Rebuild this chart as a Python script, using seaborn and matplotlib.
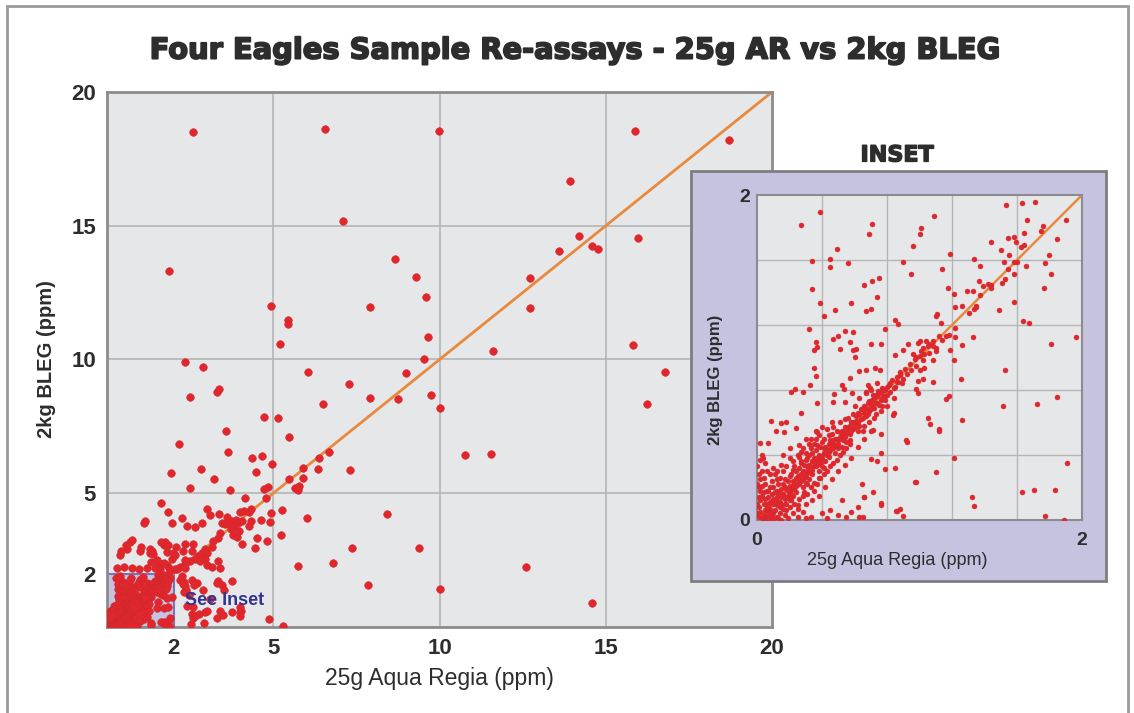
import numpy as np
import seaborn as sns
import matplotlib.pyplot as plt
import matplotlib.patheffects as pe
from matplotlib.patches import Rectangle

# --- data (ppm) ---

# sparse points, mostly above 2 ppm
hi_x = [2.59, 6.57, 9.97, 15.89, 18.72, 13.93, 7.1, 14.2, 14.6, 14.76, 13.6, 15.98, 1.87, 8.65,
        9.28, 12.72, 9.6, 4.92, 7.92, 12.72, 5.45, 5.43, 5.2, 9.64, 9.53, 11.62, 15.82, 2.35,
        2.89, 6.03, 9.0, 16.79, 7.27, 3.3, 3.36, 2.48, 7.9, 8.76, 9.74, 10.0, 6.51, 16.25, 4.73,
        5.13, 3.57, 5.46, 2.16, 3.63, 10.77, 11.55, 4.37, 4.67, 6.37, 6.67, 4.97, 2.83, 5.89,
        6.33, 7.3, 1.93, 4.49, 3.23, 5.48, 5.9, 2.49, 3.69, 4.73, 4.85, 5.65, 5.78, 5.73, 4.79,
        4.14, 1.61, 1.82, 6.0, 8.41, 5.22, 7.38, 9.39, 6.79, 5.73, 12.59, 7.85, 10.02, 14.6,
        4.86, 5.3]
hi_y = [18.5, 18.6, 18.53, 18.54, 18.19, 16.67, 15.19, 14.6, 14.25, 14.12, 14.07, 14.54, 13.3,
        13.76, 13.07, 13.05, 12.34, 11.99, 11.95, 11.94, 11.48, 11.33, 10.58, 10.84, 10.03,
        10.32, 10.53, 9.91, 9.72, 9.55, 9.51, 9.55, 9.08, 8.8, 8.88, 8.58, 8.56, 8.51, 8.67,
        8.2, 8.35, 8.34, 7.86, 7.8, 7.34, 7.1, 6.85, 6.54, 6.44, 6.45, 6.32, 6.38, 6.33, 6.53,
        6.08, 5.9, 5.96, 5.91, 5.87, 5.74, 5.81, 5.53, 5.53, 5.56, 5.21, 5.11, 5.15, 5.22,
        5.18, 5.27, 5.12, 4.81, 4.83, 4.65, 4.31, 4.09, 4.24, 3.44, 2.96, 2.96, 2.4, 2.28,
        2.23, 1.56, 1.43, 0.88, 0.31, 0.05]

# the crowded 1-5 ppm zone of the main chart
mid_x = [3.01, 3.1, 3.37, 3.6, 2.25, 1.11, 1.15, 1.94, 2.4, 2.65, 2.87, 3.45, 3.55, 3.65, 3.77,
         3.87, 3.95, 3.83, 3.72, 3.98, 3.78, 3.9, 4.0, 4.12, 4.27, 4.32, 4.07, 4.33, 4.27, 4.63,
         4.9, 4.92, 5.25, 4.5, 4.8, 4.05, 4.45, 3.4, 3.35, 3.2, 3.15, 2.95, 2.85, 2.75, 2.65,
         2.5, 2.35, 2.2, 2.1, 3.0, 2.95, 2.8, 3.35, 3.4, 3.15, 3.0, 2.6, 2.35, 2.08, 1.75, 1.7,
         1.8, 2.03, 2.27, 2.57, 0.7, 0.6, 0.4, 1.0, 1.35, 1.3, 1.55, 1.45, 1.7, 1.95, 2.35, 2.05,
         1.9, 1.8, 2.35, 0.41, 0.58, 0.74, 1.03, 1.29, 1.38, 1.62, 1.82, 1.98, 1.51, 1.31, 0.3,
         0.5, 0.75, 0.95, 1.2, 1.6, 1.85, 2.25, 2.3, 2.35, 2.55, 2.7, 2.88, 2.3, 2.4, 2.55, 2.6,
         2.78, 2.95, 3.35, 3.47, 3.75, 3.4, 3.5, 3.75, 4.0, 4.0, 2.6, 2.65, 2.52, 2.63, 2.38, 2.2,
         2.27, 3.02, 2.92, 3.3, 3.53, 3.3, 4.03, 4.01, 3.1, 2.45]
mid_y = [4.41, 4.19, 4.21, 4.12, 4.06, 3.88, 3.95, 3.88, 3.78, 3.73, 3.9, 3.9, 3.85, 3.87, 3.95,
         4.0, 3.88, 3.72, 3.65, 3.6, 3.43, 3.35, 4.3, 4.33, 4.3, 4.43, 3.98, 3.96, 3.79, 4.0,
         3.94, 4.27, 4.37, 3.33, 3.2, 3.12, 2.96, 3.5, 3.33, 3.2, 3.0, 2.9, 2.75, 2.65, 2.55,
         2.45, 2.35, 2.25, 2.15, 2.75, 2.55, 2.45, 2.45, 2.2, 2.25, 2.3, 3.12, 3.12, 3.0, 3.18,
         3.05, 2.8, 2.7, 2.85, 2.85, 3.18, 2.93, 2.7, 2.85, 2.85, 2.75, 2.4, 2.2, 2.4, 2.55, 2.5,
         2.15, 2.1, 2.3, 2.22, 2.84, 3.05, 3.25, 2.98, 2.9, 2.72, 3.19, 3.07, 2.78, 2.5, 2.43, 2.2,
         2.25, 2.2, 2.15, 2.2, 2.18, 2.22, 1.9, 1.7, 1.55, 1.75, 1.65, 1.4, 1.3, 0.8, 0.5, 0.35,
         0.5, 0.55, 1.72, 1.58, 1.72, 0.6, 0.45, 0.55, 0.75, 0.55, 0.76, 0.41, 0.1, 1.56, 1.38,
         1.76, 1.6, 0.61, 0.15, 1.63, 1.38, 0.35, 0.6, 0.41, 1.05, 1.2]

# sparse points inside the 0-2 ppm window (inset)
lo_x = [0.27, 0.39, 0.71, 0.69, 1.01, 1.0, 0.96, 0.49, 0.34, 0.45, 0.45, 0.56, 0.9, 0.95, 0.75,
        0.71, 0.66, 0.34, 0.74, 0.58, 0.39, 0.48, 0.7, 0.67, 0.41, 0.85, 0.87, 0.79, 0.32, 0.54,
        0.59, 0.5, 0.47, 0.36, 0.37, 0.35, 0.57, 0.61, 0.59, 0.51, 0.7, 0.76, 0.93, 0.99, 1.0,
        0.9, 0.85, 0.6, 0.96, 0.98,
        1.09, 1.535, 1.63, 1.712, 1.663, 1.903, 1.76, 1.75, 1.64, 1.846, 1.544, 1.583, 1.595,
        1.44, 1.5, 1.624, 1.64, 1.19, 1.552, 1.798, 1.334, 1.519, 1.583, 1.6, 1.77, 1.652,
        1.375, 1.139, 1.544, 1.583, 1.81, 1.523, 1.363, 1.42, 1.442, 1.51, 1.39, 1.44, 1.763,
        1.178, 1.29, 1.33, 1.213, 1.37, 1.58, 1.26, 1.219, 1.346, 1.335, 1.35, 1.49, 1.307,
        1.11, 1.1, 1.132, 1.636, 1.671, 1.219, 1.33, 1.219, 1.16, 1.18, 1.96, 1.81, 1.264,
        1.19, 1.06, 1.04, 1.02, 1.08, 1.1,
        1.213, 1.523, 1.254, 1.083, 1.08, 1.02, 1.03, 1.0, 1.02, 0.99, 0.98, 0.99, 1.18, 1.16,
        1.513, 1.724, 1.846, 1.054, 1.063, 1.12, 1.12, 1.264, 1.213, 1.1, 0.978, 1.907, 1.32,
        1.332, 1.63, 1.704, 1.833, 1.774, 1.89, 0.86, 0.9, 0.76, 0.66, 0.63, 0.65,
        0.351, 0.36, 0.208, 0.232, 0.28, 0.327, 0.524, 0.533, 0.473, 0.582, 0.572, 0.629, 0.67,
        0.724, 0.757, 0.68, 0.697, 0.668, 0.713, 0.746, 0.469, 0.541, 0.366, 0.273, 0.085,
        0.146, 0.117, 0.237, 0.165, 0.181, 0.019, 0.068, 0.037, 0.837, 0.843, 0.715, 0.763,
        0.915, 0.923, 0.761, 0.699, 0.738, 0.787, 0.849, 0.975, 0.648, 0.711, 0.66, 0.763,
        0.88, 0.853, 0.55, 0.5, 0.43, 0.58, 0.62, 0.33, 0.4, 0.45, 0.3, 0.52]
lo_y = [1.815, 1.897, 1.82, 1.76, 1.8, 1.76, 1.686, 1.666, 1.596, 1.606, 1.555, 1.584, 1.588,
        1.514, 1.487, 1.473, 1.444, 1.42, 1.372, 1.335, 1.337, 1.292, 1.296, 1.286, 1.255,
        1.231, 1.204, 1.177, 1.177, 1.165, 1.155, 1.134, 1.116, 1.097, 1.067, 1.046, 1.095,
        1.054, 1.044, 1.054, 1.083, 1.083, 1.085, 1.087, 1.1, 1.046, 1.015, 1.0, 1.02, 1.0,
        1.873, 1.937, 1.949, 1.957, 1.846, 1.844, 1.81, 1.777, 1.764, 1.731, 1.733, 1.74, 1.713,
        1.709, 1.664, 1.678, 1.69, 1.635, 1.633, 1.629, 1.606, 1.586, 1.588, 1.588, 1.584,
        1.563, 1.565, 1.545, 1.543, 1.512, 1.516, 1.481, 1.473, 1.452, 1.448, 1.46, 1.438,
        1.428, 1.426, 1.426, 1.409, 1.409, 1.393, 1.383, 1.343, 1.319, 1.309, 1.32, 1.3, 1.31,
        1.292, 1.272, 1.266, 1.256, 1.212, 1.223, 1.212, 1.184, 1.126, 1.125, 1.13, 1.14,
        1.126, 1.085, 1.075, 1.044, 1.08, 1.1, 1.06, 1.07, 1.04,
        0.985, 0.921, 0.87, 0.851, 0.985, 0.985, 0.936, 0.92, 0.865, 0.853, 0.804, 0.782,
        0.765, 0.743, 0.7, 0.712, 0.755, 0.626, 0.593, 0.558, 0.55, 0.613, 0.381, 0.293,
        0.234, 0.351, 0.143, 0.084, 0.17, 0.185, 0.185, 0.023, 0.002, 0.055, 0.025, 0.107,
        0.14, 0.016, 0.02,
        0.935, 0.884, 0.786, 0.804, 0.788, 0.833, 0.833, 0.808, 0.773, 0.782, 0.876, 0.917,
        0.921, 0.935, 0.921, 0.833, 0.812, 0.786, 0.771, 0.792, 0.726, 0.726, 0.722, 0.657,
        0.608, 0.594, 0.549, 0.564, 0.541, 0.602, 0.476, 0.476, 0.38, 0.644, 0.659, 0.556,
        0.527, 0.494, 0.48, 0.414, 0.377, 0.366, 0.312, 0.322, 0.236, 0.224, 0.17, 0.144, 0.09,
        0.069, 0.053, 0.02, 0.03, 0.01, 0.05, 0.08, 0.02, 0.04, 0.06, 0.01, 0.12]

# dense band along the 1:1 line
band_x = [0.01, 0.02, 0.03, 0.01, 0.04, 0.02, 0.05, 0.0, 0.03, 0.05, 0.01, 0.04, 0.06, 0.02, 0.03,
          0.06, 0.07, 0.08, 0.09, 0.07, 0.08, 0.1, 0.06, 0.09, 0.1, 0.08, 0.07, 0.1, 0.05,
          0.11, 0.12, 0.13, 0.14, 0.12, 0.15, 0.11, 0.13, 0.14, 0.15, 0.12, 0.14, 0.11, 0.13,
          0.16, 0.17, 0.18, 0.19, 0.16, 0.2, 0.17, 0.18, 0.19, 0.2, 0.16, 0.18, 0.2, 0.17,
          0.21, 0.22, 0.23, 0.24, 0.21, 0.25, 0.22, 0.24, 0.23, 0.25, 0.21, 0.24, 0.22, 0.25,
          0.26, 0.27, 0.28, 0.29, 0.26, 0.3, 0.27, 0.28, 0.29, 0.3, 0.26, 0.28, 0.3, 0.27,
          0.31, 0.32, 0.33, 0.34, 0.31, 0.35, 0.32, 0.34, 0.33, 0.35, 0.31, 0.34, 0.32, 0.35,
          0.36, 0.37, 0.38, 0.39, 0.36, 0.4, 0.37, 0.38, 0.39, 0.4, 0.36, 0.38, 0.4, 0.37,
          0.41, 0.42, 0.43, 0.44, 0.41, 0.45, 0.42, 0.44, 0.43, 0.45, 0.41, 0.44,
          0.46, 0.47, 0.48, 0.49, 0.46, 0.5, 0.47, 0.48, 0.49, 0.5, 0.46,
          0.51, 0.52, 0.53, 0.54, 0.51, 0.55, 0.52, 0.54, 0.55,
          0.56, 0.57, 0.58, 0.59, 0.56, 0.6, 0.57, 0.59,
          0.61, 0.62, 0.63, 0.64, 0.65, 0.66, 0.67, 0.68, 0.69, 0.7, 0.62, 0.66,
          0.71, 0.72, 0.73, 0.74, 0.75, 0.76, 0.77, 0.78, 0.79, 0.8, 0.73, 0.77,
          0.81, 0.82, 0.83, 0.85, 0.86, 0.87, 0.88, 0.9, 0.84,
          0.91, 0.92, 0.94, 0.95, 0.97, 0.98, 1.0,
          1.01, 1.03, 1.05, 1.06, 1.08, 1.1, 1.12, 1.14]
band_y = [0.02, 0.05, 0.01, 0.08, 0.03, 0.12, 0.06, 0.04, 0.15, 0.0, 0.2, 0.1, 0.02, 0.25, 0.3,
          0.08, 0.05, 0.11, 0.03, 0.14, 0.07, 0.1, 0.18, 0.16, 0.04, 0.2, 0.01, 0.13, 0.22,
          0.12, 0.09, 0.15, 0.11, 0.18, 0.14, 0.06, 0.22, 0.04, 0.19, 0.25, 0.08, 0.28, 0.01,
          0.16, 0.13, 0.19, 0.15, 0.22, 0.18, 0.25, 0.1, 0.24, 0.12, 0.3, 0.06, 0.27, 0.2,
          0.2, 0.24, 0.19, 0.26, 0.28, 0.22, 0.15, 0.3, 0.33, 0.27, 0.12, 0.17, 0.36, 0.09,
          0.27, 0.24, 0.3, 0.26, 0.32, 0.29, 0.35, 0.2, 0.34, 0.23, 0.39, 0.15, 0.37, 0.42,
          0.3, 0.34, 0.29, 0.36, 0.38, 0.33, 0.25, 0.41, 0.44, 0.38, 0.22, 0.28, 0.47, 0.18,
          0.37, 0.34, 0.4, 0.36, 0.43, 0.39, 0.46, 0.3, 0.45, 0.33, 0.5, 0.26, 0.48, 0.54,
          0.41, 0.45, 0.4, 0.47, 0.5, 0.43, 0.36, 0.52, 0.56, 0.49, 0.32, 0.39,
          0.47, 0.44, 0.5, 0.46, 0.53, 0.49, 0.57, 0.41, 0.55, 0.44, 0.6,
          0.51, 0.55, 0.49, 0.57, 0.6, 0.53, 0.45, 0.62, 0.48,
          0.57, 0.53, 0.6, 0.56, 0.63, 0.59, 0.49, 0.65,
          0.61, 0.66, 0.58, 0.68, 0.63, 0.7, 0.64, 0.72, 0.67, 0.71, 0.55, 0.58,
          0.74, 0.69, 0.77, 0.72, 0.78, 0.74, 0.81, 0.76, 0.8, 0.77, 0.65, 0.7,
          0.83, 0.79, 0.86, 0.82, 0.88, 0.85, 0.91, 0.87, 0.75,
          0.93, 0.9, 0.96, 0.92, 0.99, 0.95, 1.01,
          1.04, 1.02, 1.07, 1.03, 1.1, 1.06, 1.13, 1.11]

# more of the solid red core near the origin and its fringes
core_x = [0.0, 0.01, 0.02, 0.0, 0.01, 0.0, 0.02, 0.03, 0.04, 0.05, 0.06, 0.07, 0.08, 0.09, 0.1,
          0.12, 0.15, 0.17, 0.19, 0.22, 0.25, 0.28, 0.04, 0.06, 0.03, 0.05, 0.08, 0.09, 0.07,
          0.1, 0.11, 0.12, 0.13, 0.14, 0.15, 0.16, 0.17, 0.18, 0.19, 0.2, 0.21, 0.22, 0.23,
          0.24, 0.25, 0.26, 0.27, 0.28, 0.29, 0.3, 0.31, 0.32, 0.33, 0.34, 0.35, 0.36, 0.37,
          0.38, 0.39, 0.4, 0.41, 0.42, 0.43, 0.44, 0.45, 0.46, 0.47, 0.48, 0.49, 0.5, 0.51,
          0.52, 0.53, 0.54, 0.55, 0.56, 0.57, 0.58, 0.59, 0.6,
          0.12, 0.15, 0.18, 0.2, 0.22, 0.14, 0.1, 0.25, 0.28, 0.3, 0.32, 0.27, 0.35, 0.33,
          0.38, 0.36, 0.4, 0.3, 0.26, 0.2, 0.16,
          0.2, 0.23, 0.26, 0.29, 0.31, 0.33, 0.35, 0.37, 0.39, 0.41, 0.43, 0.45, 0.47, 0.49,
          0.51, 0.53, 0.55, 0.57, 0.25, 0.3, 0.34, 0.38, 0.42, 0.46, 0.5, 0.54, 0.58, 0.62,
          0.66, 0.7,
          0.61, 0.62, 0.63, 0.64, 0.65, 0.66, 0.67, 0.68, 0.69, 0.7, 0.71, 0.72, 0.73, 0.74,
          0.75, 0.76, 0.77, 0.78, 0.79, 0.8, 0.82, 0.84, 0.86, 0.88, 0.89, 0.6, 0.63, 0.67,
          0.7, 0.74, 0.65, 0.69, 0.72, 0.76, 0.8]
core_y = [0.1, 0.14, 0.18, 0.22, 0.28, 0.33, 0.37, 0.21, 0.17, 0.13, 0.1, 0.09, 0.04, 0.01, 0.0,
          0.02, 0.0, 0.03, 0.01, 0.04, 0.02, 0.05, 0.26, 0.3, 0.4, 0.35, 0.28, 0.24, 0.18,
          0.2, 0.17, 0.14, 0.11, 0.16, 0.09, 0.07, 0.1, 0.14, 0.18, 0.21, 0.16, 0.2, 0.23,
          0.21, 0.25, 0.22, 0.28, 0.25, 0.29, 0.27, 0.33, 0.3, 0.32, 0.31, 0.36, 0.33, 0.38,
          0.35, 0.39, 0.36, 0.44, 0.41, 0.43, 0.42, 0.46, 0.44, 0.49, 0.46, 0.5, 0.47, 0.54,
          0.5, 0.52, 0.51, 0.56, 0.54, 0.58, 0.55, 0.6, 0.57,
          0.3, 0.34, 0.33, 0.38, 0.31, 0.26, 0.32, 0.4, 0.44, 0.41, 0.4, 0.36, 0.47, 0.5,
          0.52, 0.55, 0.57, 0.5, 0.46, 0.44, 0.4,
          0.08, 0.1, 0.13, 0.17, 0.16, 0.2, 0.23, 0.22, 0.26, 0.28, 0.3, 0.33, 0.35, 0.37,
          0.4, 0.42, 0.44, 0.47, 0.07, 0.1, 0.12, 0.15, 0.2, 0.25, 0.3, 0.34, 0.38, 0.45,
          0.5, 0.55,
          0.64, 0.6, 0.65, 0.62, 0.68, 0.66, 0.69, 0.65, 0.73, 0.68, 0.7, 0.75, 0.72, 0.76,
          0.71, 0.79, 0.75, 0.8, 0.74, 0.82, 0.84, 0.81, 0.85, 0.89, 0.84, 0.7, 0.75, 0.78,
          0.8, 0.84, 0.55, 0.6, 0.63, 0.67, 0.7]

main_ticks = [2, 5, 10, 15, 20]
grid_lines = [5, 10, 15]
inset_grid = [0.4, 0.8, 1.2, 1.6]

all_x = np.concatenate([hi_x, mid_x, lo_x, band_x, core_x])
all_y = np.concatenate([hi_y, mid_y, lo_y, band_y, core_y])

dot_red = "#e3262c"
line_orange = "#e8893c"
panel = "#e6e7e8"
gridc = "#b4b5b7"
frame = "#8c8c8e"
lilac = "#c6c3e1"
ink = "#2d2d2d"

sns.set_style("white")
plt.rcParams["font.family"] = ["Liberation Sans", "DejaVu Sans"]

fig = plt.figure(figsize=(11.34, 7.13), dpi=100)
fig.patch.set_facecolor("white")

# outer picture frame
fig.patches.append(Rectangle((0.0062, -0.02), 0.9885, 1.0116, transform=fig.transFigure,
                             fill=False, edgecolor="#9a9a9a", linewidth=2))

fig.text(0.506, 0.929, "Four Eagles Sample Re-assays - 25g AR vs 2kg BLEG", ha="center",
         va="center", fontsize=20.8, fontweight="bold", color=ink, family="DejaVu Sans",
         path_effects=[pe.withStroke(linewidth=1.3, foreground=ink)])

# ---------- main chart ----------
ax = fig.add_axes([0.0944, 0.1206, 0.5864, 0.7504])
ax.set_zorder(1)
ax.set_facecolor(panel)
for v in grid_lines:
    ax.axvline(v, color=gridc, lw=1.2, zorder=0)
    ax.axhline(v, color=gridc, lw=1.2, zorder=0)
ax.add_patch(Rectangle((0, 0), 2, 2, facecolor=lilac, edgecolor="#7b73b5", lw=1.5, zorder=1))
ax.plot([0, 20], [0, 20], color=line_orange, lw=2, zorder=2)
sns.scatterplot(x=all_x, y=all_y, ax=ax, color=dot_red, s=30, edgecolor="#cc2a2f",
                linewidth=0.4, zorder=3, legend=False)
ax.text(2.35, 1.0, "See Inset", color="#33348f", fontsize=13, fontweight="bold",
        va="center", ha="left", zorder=4)
ax.set_xlim(0, 20)
ax.set_ylim(0, 20)
ax.set_xticks(main_ticks)
ax.set_yticks(main_ticks)
ax.tick_params(length=0, labelsize=16, pad=8, labelcolor=ink)
for lab in ax.get_xticklabels() + ax.get_yticklabels():
    lab.set_fontweight("bold")
ax.set_xlabel("25g Aqua Regia (ppm)", fontsize=16.5, color=ink, labelpad=6)
ax.set_ylabel("2kg BLEG (ppm)", fontsize=14.5, color=ink, fontweight="bold", labelpad=11)
for sp in ax.spines.values():
    sp.set_color(frame)
    sp.set_linewidth(2)

# ---------- inset ----------
box = Rectangle((0.6093, 0.1851), 0.366, 0.575, transform=fig.transFigure,
                facecolor=lilac, edgecolor="#7d7d80", linewidth=2)
box.set_zorder(2)
fig.patches.append(box)
fig.text(0.791, 0.782, "INSET", ha="center", va="center", fontsize=16, fontweight="bold",
         color=ink, family="DejaVu Sans",
         path_effects=[pe.withStroke(linewidth=1.0, foreground=ink)])

ins = fig.add_axes([0.6676, 0.2707, 0.2866, 0.4558])
ins.set_zorder(3)
ins.set_facecolor(panel)
for v in inset_grid:
    ins.axvline(v, color=gridc, lw=1, zorder=0)
    ins.axhline(v, color=gridc, lw=1, zorder=0)
ins.plot([0, 2], [0, 2], color=line_orange, lw=1.8, zorder=2)
sns.scatterplot(x=all_x, y=all_y, ax=ins, color=dot_red, s=13, edgecolor="#cc2a2f",
                linewidth=0.3, zorder=3, legend=False)
ins.set_xlim(0, 2)
ins.set_ylim(0, 2)
ins.set_xticks([0, 2])
ins.set_yticks([0, 2])
ins.tick_params(length=0, labelsize=14, pad=5, labelcolor=ink)
ins.tick_params(axis="x", pad=9)
for lab in ins.get_xticklabels() + ins.get_yticklabels():
    lab.set_fontweight("bold")
ins.set_xlabel("25g Aqua Regia (ppm)", fontsize=13, color=ink)
ins.xaxis.set_label_coords(0.43, -0.1)
ins.set_ylabel("2kg BLEG (ppm)", fontsize=12, color=ink, fontweight="bold")
ins.yaxis.set_label_coords(-0.105, 0.43)
for sp in ins.spines.values():
    sp.set_color(frame)
    sp.set_linewidth(1.5)

fig.savefig("out.png", dpi=100)
